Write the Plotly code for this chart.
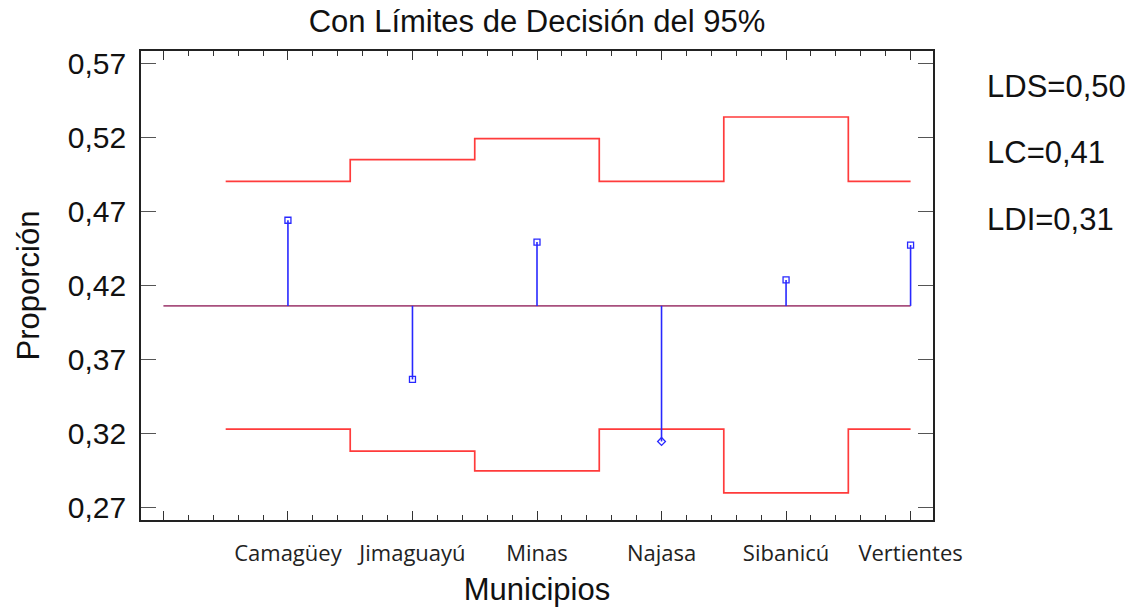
import plotly.graph_objects as go

categories = ["Camagüey", "Jimaguayú", "Minas", "Najasa", "Sibanicú", "Vertientes"]
proportions = [0.4642, 0.3564, 0.4494, 0.3144, 0.4238, 0.4474]
upper_limits = [0.4905, 0.5053, 0.5195, 0.4905, 0.5341, 0.4905]
lower_limits = [0.3227, 0.3079, 0.2944, 0.3227, 0.2796, 0.3227]
center_line = 0.4062
y_ticks = [0.27, 0.32, 0.37, 0.42, 0.47, 0.52, 0.57]
y_tick_labels = ["0,27", "0,32", "0,37", "0,42", "0,47", "0,52", "0,57"]
summary_labels = ["LDS=0,50", "LC=0,41", "LDI=0,31"]

n = len(categories)
xpos = list(range(1, n + 1))

RED = "#FF3B3B"
BLUE = "#2828FF"
MAUVE = "#A8507E"
FONT = "Liberation Sans, Arial, sans-serif"

W, H = 1133, 613
plot_top, plot_bottom = 51, 522
ph = plot_bottom - plot_top

fig = go.Figure()

edges = [i + 0.5 for i in range(n)] + [n]
fig.add_trace(go.Scatter(x=edges, y=upper_limits + [upper_limits[-1]], mode="lines",
                         line=dict(color=RED, width=1.7, shape="hv"), hoverinfo="skip"))
fig.add_trace(go.Scatter(x=edges, y=lower_limits + [lower_limits[-1]], mode="lines",
                         line=dict(color=RED, width=1.7, shape="hv"), hoverinfo="skip"))

fig.add_trace(go.Scatter(x=[0, n], y=[center_line, center_line], mode="lines",
                         line=dict(color=MAUVE, width=1.6), hoverinfo="skip"))

sx, sy = [], []
for x, p in zip(xpos, proportions):
    sx += [x, x, None]
    sy += [center_line, p, None]
fig.add_trace(go.Scatter(x=sx, y=sy, mode="lines", line=dict(color=BLUE, width=1.6),
                         hoverinfo="skip"))

symbols = ["square-open" if lo <= p <= up else "diamond-open"
           for p, lo, up in zip(proportions, lower_limits, upper_limits)]
fig.add_trace(go.Scatter(x=xpos, y=proportions, mode="markers",
                         marker=dict(symbol=symbols, size=6, color=BLUE,
                                     line=dict(color=BLUE, width=1.3)),
                         text=categories, hovertemplate="%{text}: %{y:.3f}<extra></extra>"))

for lab, ypx in zip(summary_labels, [87, 153, 220]):
    fig.add_annotation(text=lab, xref="paper", yref="paper", x=1.0, xshift=52, xanchor="left",
                       y=(plot_bottom - ypx) / ph, yanchor="middle", showarrow=False,
                       font=dict(family=FONT, size=31, color="#111"))

fig.update_layout(
    width=W, height=H,
    margin=dict(l=141, r=W - 933, t=plot_top, b=H - plot_bottom),
    paper_bgcolor="white", plot_bgcolor="white",
    showlegend=False,
    title=dict(text="Con Límites de Decisión del 95%", x=0.5, xref="paper", xanchor="center",
               y=1 - 21 / H, yanchor="middle", font=dict(family=FONT, size=31, color="#111")),
)

fig.update_xaxes(
    range=[-0.18, 6.18], tickmode="array", tickvals=[0] + xpos, ticktext=[""] + categories,
    ticks="inside", ticklen=9, tickwidth=1.3, tickcolor="#333",
    minor=dict(tick0=0, dtick=0.2, ticks="inside", ticklen=5, tickwidth=1.2, tickcolor="#333"),
    showline=True, linecolor="#222", linewidth=1.6, mirror="ticks",
    showgrid=False, zeroline=False,
    tickfont=dict(family="Open Sans, sans-serif", size=22, color="#222"),
    ticklabelstandoff=13,
    title=dict(text="Municipios", font=dict(family=FONT, size=31, color="#111"), standoff=12),
)
fig.update_yaxes(
    range=[0.2612, 0.5788], tickmode="array", tickvals=y_ticks, ticktext=y_tick_labels,
    ticks="inside", ticklen=15, tickwidth=1.3, tickcolor="#555",
    showline=True, linecolor="#222", linewidth=1.6, mirror="ticks",
    showgrid=False, zeroline=False,
    tickfont=dict(family=FONT, size=30, color="#111"),
    ticklabelstandoff=7,
    title=dict(text="Proporción", font=dict(family=FONT, size=31, color="#111"), standoff=19),
)

fig.write_html("out.html", config={"displayModeBar": False},
               post_script="document.body.style.margin='0';")
